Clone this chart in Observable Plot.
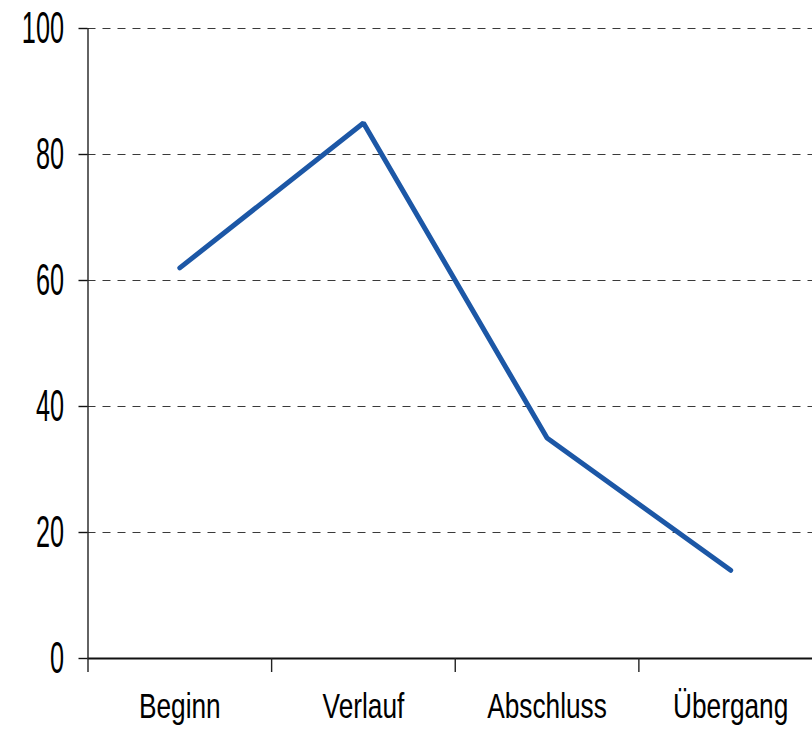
<!DOCTYPE html>
<html>
<head>
<meta charset="utf-8">
<script src="https://cdn.jsdelivr.net/npm/d3@7"></script>
<script src="https://cdn.jsdelivr.net/npm/@observablehq/plot@0.6"></script>
<style>
  html, body { margin: 0; padding: 0; background: #fff; }
  #chart svg { display: block; }
</style>
</head>
<body>
<div id="chart"></div>
<script>
const categories = ["Beginn", "Verlauf", "Abschluss", "Übergang"];
const values = [62, 85, 35, 14];
const yTicks = [0, 20, 40, 60, 80, 100];
const gridTicks = [20, 40, 60, 80, 100];

const fontFamily = "'Liberation Sans', Arial, sans-serif";

const chart = Plot.plot({
  width: 812,
  height: 733,
  marginTop: 28,
  marginBottom: 75,
  marginLeft: 87.5,
  marginRight: 0,
  style: { fontFamily, fontSize: "32px", color: "#000", background: "#fff" },
  x: { type: "linear", domain: [0, categories.length], range: [87.5, 822] },
  y: { domain: [0, 100] },
  marks: [
    Plot.ruleY(gridTicks, { stroke: "#3a3a3a", strokeWidth: 1.2, strokeDasharray: "8,7" }),
    Plot.ruleY([0], { stroke: "#111", strokeWidth: 1.8 }),
    Plot.ruleX([0], { y1: 0, y2: 100, stroke: "#222", strokeWidth: 1.4 }),
    Plot.axisY({ ticks: yTicks, tickSize: 9, tickPadding: 15, stroke: "#111", strokeWidth: 1.4, tickFormat: d => String(d) }),
    Plot.axisX({ ticks: d3.range(categories.length + 1), tickSize: 14, tickFormat: () => "", stroke: "#222", strokeWidth: 1.4 }),
    Plot.axisX({ ticks: categories.map((_, i) => i + 0.5), tickSize: 0, tickPadding: 35, tickFormat: d => categories[Math.floor(d)] }),
    Plot.line(categories, {
      x: (_, i) => i + 0.5,
      y: (_, i) => values[i],
      stroke: "#1c57a6",
      strokeWidth: 5,
      strokeLinejoin: "miter",
      strokeLinecap: "round"
    })
  ]
});

document.getElementById("chart").appendChild(chart);

// Narrow, tall lettering as in the original
chart.querySelectorAll('g[aria-label="y-axis tick label"] text').forEach(t => {
  t.setAttribute("transform", (t.getAttribute("transform") || "") + " scale(0.79,1.38)");
});
chart.querySelectorAll('g[aria-label="x-axis tick label"] text').forEach(t => {
  t.setAttribute("transform", (t.getAttribute("transform") || "") + " scale(0.82,1.1)");
});
</script>
</body>
</html>
